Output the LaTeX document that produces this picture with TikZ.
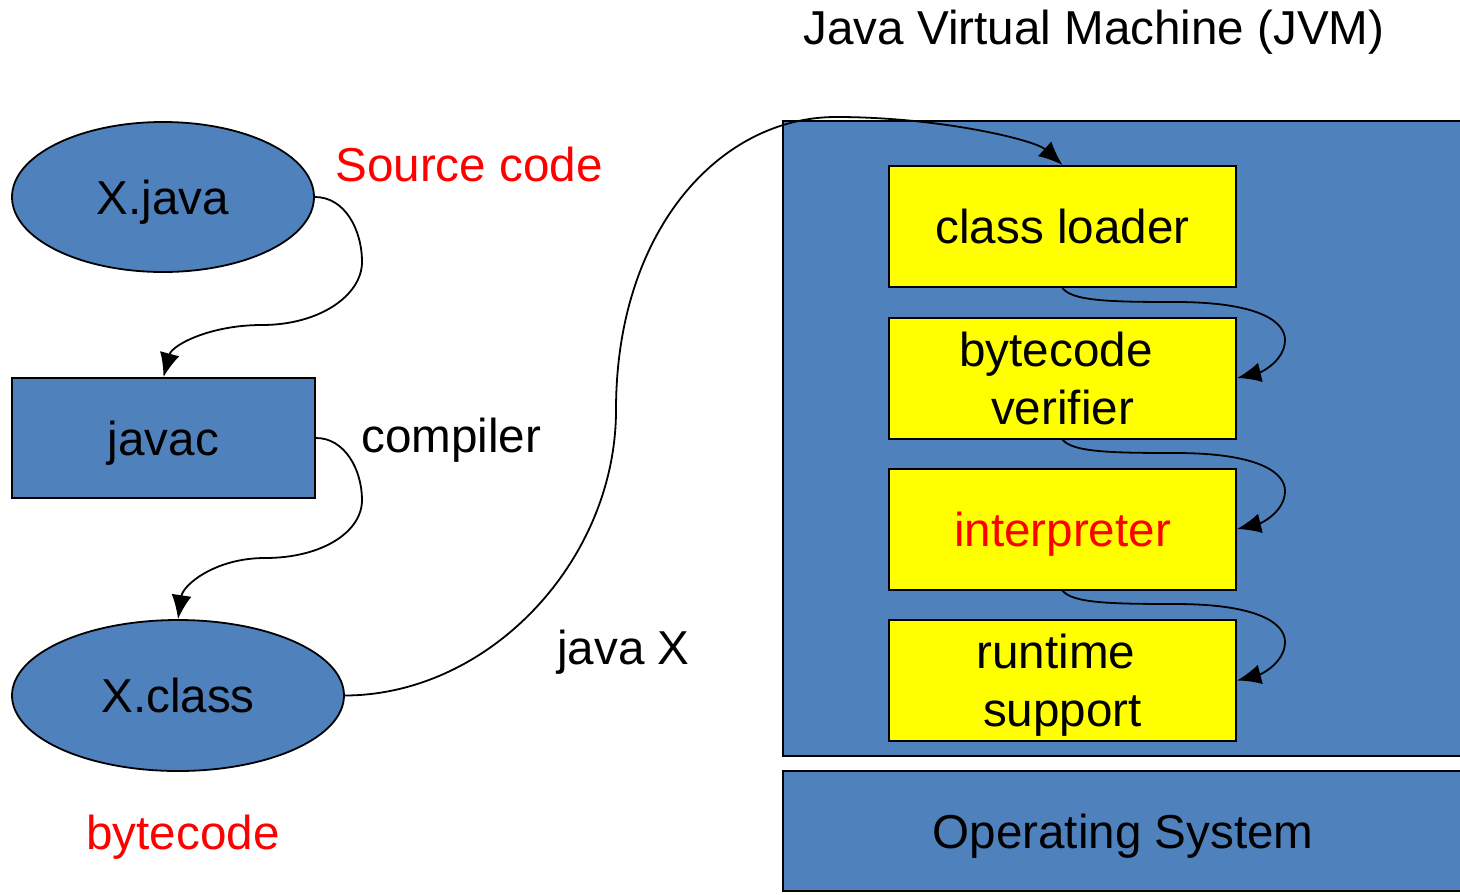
\documentclass[tikz,border=0pt]{standalone}
\usepackage{fontspec}
\setmainfont{Liberation Sans}
\usetikzlibrary{shapes.geometric,arrows.meta}

\definecolor{boxblue}{RGB}{79,129,189}
\definecolor{labelred}{RGB}{255,0,0}
\definecolor{stageyellow}{RGB}{255,255,0}

\tikzset{
  filenode/.style={ellipse, draw, line width=0.9pt, fill=boxblue,
    inner sep=0pt, text depth=0pt},
  toolbox/.style={rectangle, draw, line width=1pt, fill=boxblue,
    inner sep=0pt, text depth=0pt},
  stagebox/.style={rectangle, draw, line width=1pt, fill=stageyellow,
    minimum width=173.5pt, minimum height=60.5pt, inner sep=0pt,
    align=center, text depth=0pt},
  caption/.style={anchor=base west, inner sep=0pt},
  flow/.style={line width=0.9pt, -{Latex[length=12pt,width=10pt]}}
}

\begin{document}
\begin{tikzpicture}[x=0.5pt, y=-0.5pt, font=\fontsize{23.8}{29}\selectfont]
  \clip (0,0) rectangle (1460,894);

  % JVM and operating system layers
  \node[toolbox, minimum width=343.5pt, minimum height=317.5pt] (jvm) at (1126.5,438.5) {};
  \node[toolbox, minimum width=340pt, minimum height=60pt] (os) at (1123,831) {Operating System};
  \node[anchor=base, inner sep=0pt] (jvmtitle) at (1094,44) {Java Virtual Machine (JVM)};

  % stages inside the JVM
  \node[stagebox] (loader)   at (1062.5,226.5) {class loader};
  \node[stagebox] (verifier) at (1062.5,378)   {bytecode\kern6.5pt\\verifier};
  \node[stagebox] (interp)   at (1062.5,529)   {\textcolor{labelred}{interpreter}};
  \node[stagebox] (runtime)  at (1062.5,680.5) {runtime\kern6.5pt\\support};

  % compilation chain
  \node[filenode, minimum width=151pt, minimum height=75pt] (xjava) at (163,197) {X.java};
  \node[toolbox, minimum width=151.5pt, minimum height=60pt] (javac) at (163.5,438) {javac};
  \node[filenode, minimum width=166pt, minimum height=75.5pt] (xclass) at (178,695.5) {X.class};

  % free labels
  \node[caption, text=labelred] (srclabel) at (335,181) {Source code};
  \node[caption] (complabel) at (361,452) {compiler};
  \node[caption] (runlabel) at (557,664) {java X};
  \node[caption, text=labelred] (bclabel) at (86,849) {bytecode};

  % connectors
  \draw[flow] (xjava.east) .. controls (345,197) and (362,230) .. (362,262)
    .. controls (362,295) and (320,325) .. (262,325)
    .. controls (210,325) and (172,345) .. (javac.north);
  \draw[flow] (javac.east) .. controls (345,438) and (362,470) .. (362,500)
    .. controls (362,532) and (322,558) .. (265,558)
    .. controls (215,558) and (183,585) .. (xclass.north);
  \draw[flow] (xclass.east) .. controls (490,695) and (616,560) .. (616,410)
    .. controls (616,230) and (720,117) .. (836,117)
    .. controls (940,117) and (1035,140) .. (loader.north);

  \draw[flow] (loader.south) .. controls (1072,301) and (1110,302) .. (1175,302)
    .. controls (1260,302) and (1285,322) .. (1285,340)
    .. controls (1285,360) and (1262,372) .. (verifier.east);
  \draw[flow] (verifier.south) .. controls (1072,452) and (1110,453) .. (1175,453)
    .. controls (1260,453) and (1285,473) .. (1285,491)
    .. controls (1285,511) and (1262,523) .. (interp.east);
  \draw[flow] (interp.south) .. controls (1072,603) and (1110,604) .. (1175,604)
    .. controls (1260,604) and (1285,624) .. (1285,642)
    .. controls (1285,662) and (1262,674) .. (runtime.east);
\end{tikzpicture}
\end{document}
